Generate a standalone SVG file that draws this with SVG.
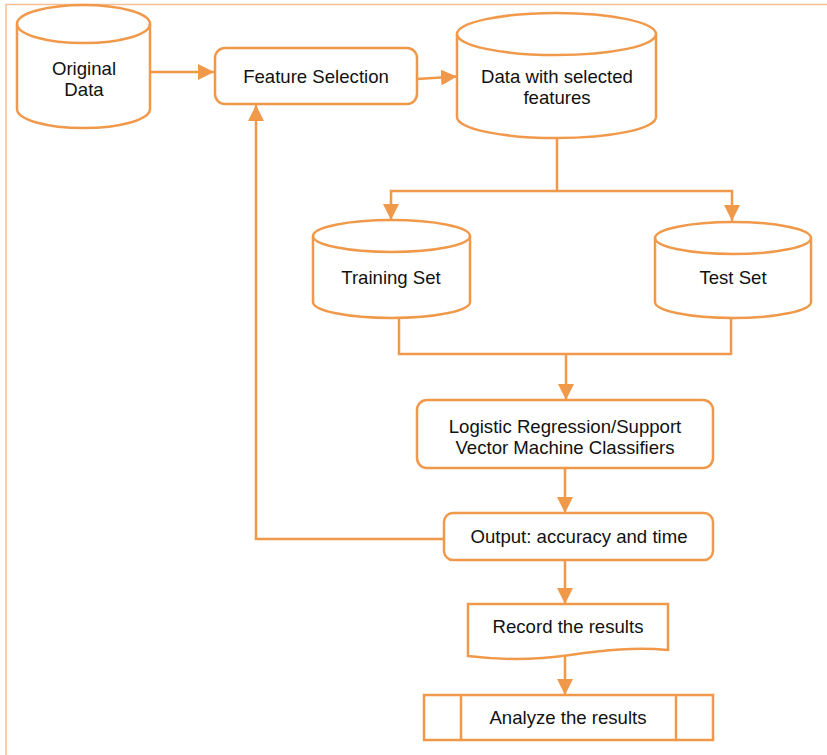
<svg xmlns="http://www.w3.org/2000/svg" width="827" height="755" viewBox="0 0 827 755">
<style>
.s{fill:#fff;stroke:#F0994A;stroke-width:2.5}
.c{fill:none;stroke:#F0994A;stroke-width:2.5}
.t{font-family:"Liberation Sans",Arial,sans-serif;font-size:18.6px;fill:#111;text-anchor:middle}
</style>
<defs>
<marker id="a" viewBox="0 0 16 16" refX="16" refY="8" markerWidth="16" markerHeight="16" orient="auto" markerUnits="userSpaceOnUse">
<path d="M0,0 L16,8 L0,16 Z" fill="#F0994A"/>
</marker>
</defs>
<rect width="827" height="755" fill="#fff"/>
<path d="M6,755 V4.5 H827" fill="none" stroke="#F7BE93" stroke-width="1.5"/>
<g id="connectors">
<line class="c" x1="150" y1="72" x2="214" y2="72" marker-end="url(#a)"/>
<line class="c" x1="417" y1="79" x2="457" y2="76.5" marker-end="url(#a)"/>
<polyline class="c" points="557,138 557,191 391,191 391,220" marker-end="url(#a)"/>
<polyline class="c" points="557,191 732,191 732,221" marker-end="url(#a)"/>
<polyline class="c" points="399,318 399,354 731,354 731,318"/>
<line class="c" x1="566" y1="354" x2="566" y2="400" marker-end="url(#a)"/>
<line class="c" x1="565" y1="469" x2="565" y2="513" marker-end="url(#a)"/>
<polyline class="c" points="444,539 256,539 256,105" marker-end="url(#a)"/>
<line class="c" x1="565" y1="560" x2="565" y2="604" marker-end="url(#a)"/>
<line class="c" x1="565" y1="654" x2="565" y2="695" marker-end="url(#a)"/>
</g>
<g id="original-data">
<path class="s" d="M17,24 V109 A66.5,19 0 0 0 150,109 V24 A66.5,19 0 0 0 17,24 Z"/>
<path class="c" d="M17,24 A66.5,19 0 0 0 150,24"/>
<text class="t" x="84" y="75">Original</text>
<text class="t" x="84" y="96">Data</text>
</g>
<g id="feature-selection">
<rect class="s" x="215" y="48" width="202" height="56" rx="10"/>
<text class="t" x="316" y="83">Feature Selection</text>
</g>
<g id="data-selected">
<path class="s" d="M457,34 V117 A99.5,21 0 0 0 656,117 V34 A99.5,21 0 0 0 457,34 Z"/>
<path class="c" d="M457,34 A99.5,21 0 0 0 656,34"/>
<text class="t" x="557" y="83">Data with selected</text>
<text class="t" x="557" y="104">features</text>
</g>
<g id="training-set">
<path class="s" d="M313,236 V302 A78.5,16 0 0 0 470,302 V236 A78.5,16 0 0 0 313,236 Z"/>
<path class="c" d="M313,236 A78.5,16 0 0 0 470,236"/>
<text class="t" x="391" y="284">Training Set</text>
</g>
<g id="test-set">
<path class="s" d="M655,238 V302 A78,16 0 0 0 811,302 V238 A78,16 0 0 0 655,238 Z"/>
<path class="c" d="M655,238 A78,16 0 0 0 811,238"/>
<text class="t" x="733" y="284">Test Set</text>
</g>
<g id="classifiers">
<rect class="s" x="417" y="400" width="296" height="68" rx="10"/>
<text class="t" x="565" y="433">Logistic Regression/Support</text>
<text class="t" x="565" y="454">Vector Machine Classifiers</text>
</g>
<g id="output">
<rect class="s" x="444" y="513" width="269" height="47" rx="9"/>
<text class="t" x="579" y="543">Output: accuracy and time</text>
</g>
<g id="record">
<path class="s" d="M468,604 H668 V650 C635,647 605,650 570,655 C535,660 500,660 468,656 Z"/>
<text class="t" x="568" y="633">Record the results</text>
</g>
<g id="analyze">
<rect class="s" x="424" y="695" width="289" height="45"/>
<line class="c" x1="461" y1="695" x2="461" y2="740"/>
<line class="c" x1="676" y1="695" x2="676" y2="740"/>
<text class="t" x="568" y="724">Analyze the results</text>
</g>
</svg>
